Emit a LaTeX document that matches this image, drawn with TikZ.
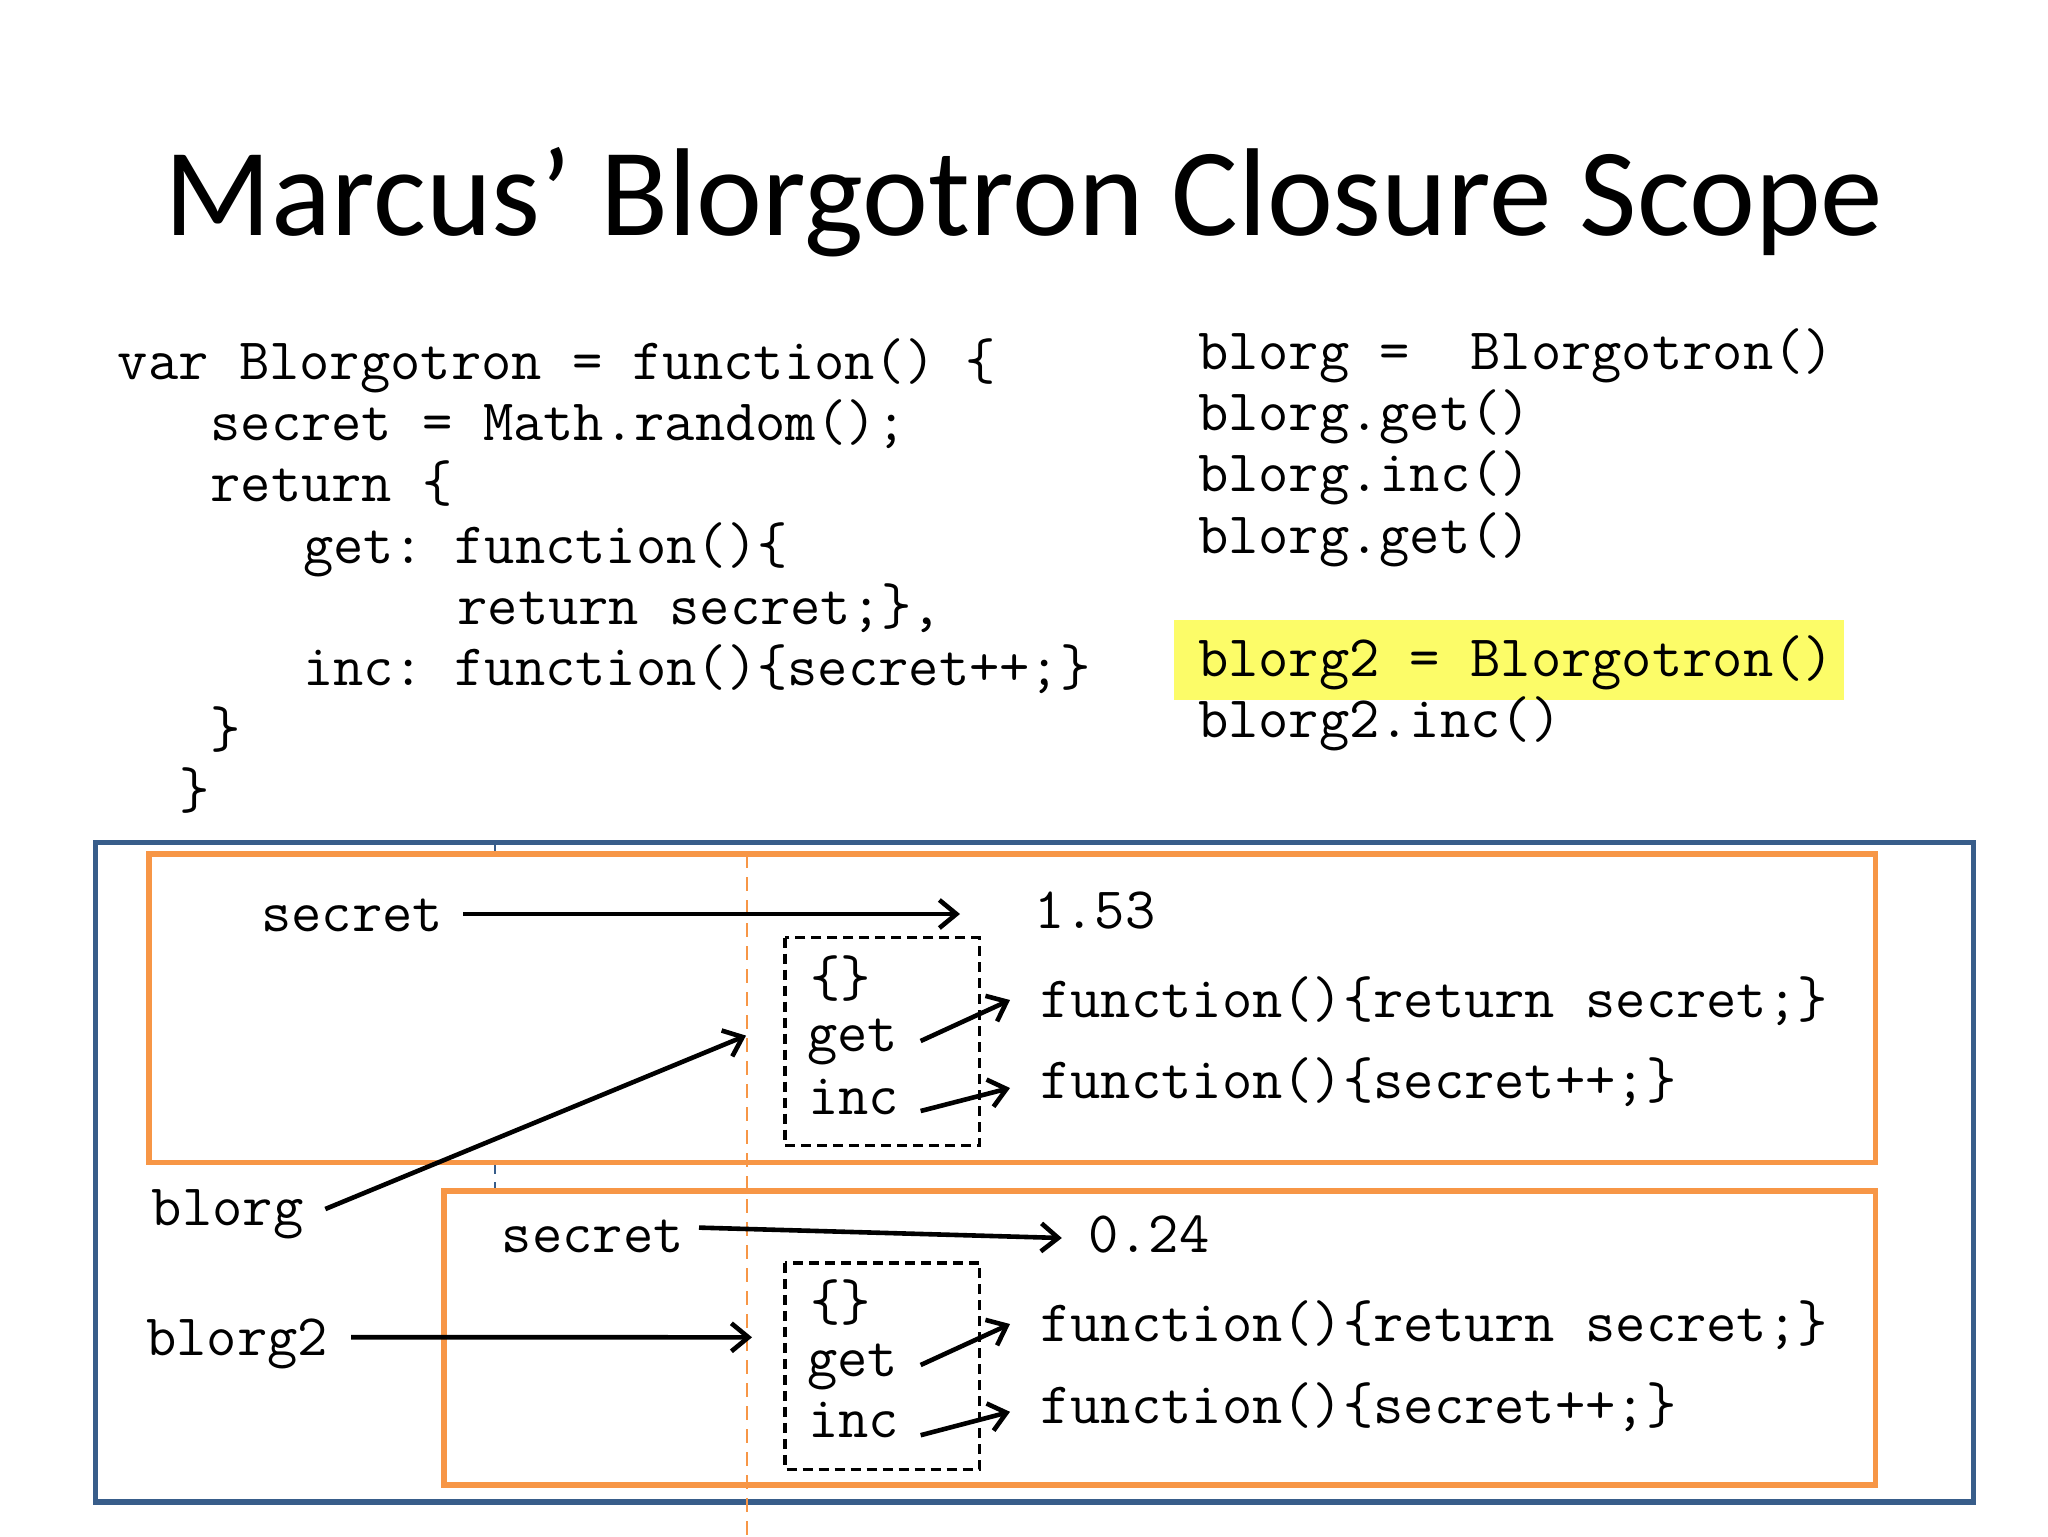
\documentclass[tikz,border=0pt]{standalone}
\usepackage{fontspec}
\newfontfamily\titlefont{Carlito}
\usetikzlibrary{arrows.meta}
\definecolor{hilite}{RGB}{252,252,104}
\definecolor{scopeblue}{RGB}{56,93,138}
\definecolor{scopeorange}{RGB}{247,150,70}
\begin{document}
\begin{tikzpicture}[x=0.5pt,y=-0.5pt,
  code/.style={font=\ttfamily\fontsize{29.4pt}{34pt}\selectfont\frenchspacing, anchor=base west, inner sep=0pt},
  arr/.style={line width=2.3pt, -{Straight Barb[length=8.5pt,width=14pt,line width=2.3pt]}},
  outerbox/.style={draw=scopeblue, line width=2.6pt},
  scopebox/.style={draw=scopeorange, line width=2.8pt, fill=white},
  objbox/.style={draw=black, line width=1.6pt, dash pattern=on 5pt off 3pt},
  orangeline/.style={draw=scopeorange, line width=1.3pt, dash pattern=on 7pt off 4.5pt},
  blueline/.style={draw=scopeblue, line width=1.2pt, dash pattern=on 6pt off 4pt}]
\useasboundingbox[fill=white] (0,0) rectangle (2048,1536);

% title
\node[font=\titlefont\fontsize{62.5pt}{70pt}\selectfont, anchor=base, inner sep=0pt] (title) at (1024,235) {Marcus’ Blorgotron Closure Scope};

% left code
\node[code] (l1) at (117.5,379) {var Blorgotron = function() \{};
\node[code] (l2) at (210.1,440) {secret = Math.random();};
\node[code] (l3) at (210.1,501.5) {return \{};
\node[code] (l4) at (302.7,563) {get: function()\{};
\node[code] (l5) at (457.1,624) {return secret;\},};
\node[code] (l6) at (302.7,685.5) {inc: function()\{secret++;\}};
\node[code] (l7) at (210.1,747) {\}};
\node[code] (l8) at (179.2,808) {\}};

% right code
\fill[hilite] (1174,620) rectangle (1844,700);
\node[code] (r1) at (1197.6,369) {blorg =\ \ Blorgotron()};
\node[code] (r2) at (1197.6,430.4) {blorg.get()};
\node[code] (r3) at (1197.6,491.8) {blorg.inc()};
\node[code] (r4) at (1197.6,553.2) {blorg.get()};
\node[code] (r5) at (1197.6,676) {blorg2 = Blorgotron()};
\node[code] (r6) at (1197.6,737.4) {blorg2.inc()};

% scope boxes
\draw[outerbox] (95.3,842.4) rectangle (1973.4,1502);
\draw[blueline] (495,842.4) -- (495,1191);
\draw[scopebox] (148.9,854.1) rectangle (1875.4,1162.3);
\draw[scopebox] (444,1191) rectangle (1875.4,1485);
\draw[orangeline] (747,854.1) -- (747,1536);
\draw[objbox] (785,937.7) rectangle (979.5,1145.4);
\draw[objbox] (785,1262.9) rectangle (979.5,1469.3);

% scope A
\node[code] (sA) at (261,931) {secret};
\node[code] (vA) at (1034,928) {1.53};
\node[code] (brA) at (810,996) {\{\}};
\node[code] (getA) at (807,1051) {get};
\node[code] (incA) at (808,1114) {inc};
\node[code] (fgA) at (1040,1017) {function()\{return secret;\}};
\node[code] (fiA) at (1040,1098) {function()\{secret++;\}};
\coordinate (sAtip) at (960,914);
\coordinate (getAtip) at (1010,1000);
\coordinate (incAtip) at (1010,1088);
\coordinate (objA) at (746,1035.6);

% scope B
\node[code] (sB) at (501.5,1252) {secret};
\node[code] (vB) at (1088,1252) {0.24};
\node[code] (brB) at (810,1320) {\{\}};
\node[code] (getB) at (807,1376) {get};
\node[code] (incB) at (808,1437.6) {inc};
\node[code] (fgB) at (1040,1341) {function()\{return secret;\}};
\node[code] (fiB) at (1040,1423) {function()\{secret++;\}};
\coordinate (sBtip) at (1061.8,1238);
\coordinate (getBtip) at (1010,1324);
\coordinate (incBtip) at (1010,1411.8);
\coordinate (objB) at (752,1337.3);

% variables
\node[code] (blorg) at (151.5,1225) {blorg};
\node[code] (blorgtwo) at (146,1355) {blorg2};

% arrows
\draw[arr] ([xshift=10pt,yshift=8.5pt]sA.base east) -- (sAtip);
\draw[arr] ([xshift=11pt,yshift=5pt]getA.base east) -- (getAtip);
\draw[arr] ([xshift=10.5pt,yshift=1.5pt]incA.base east) -- (incAtip);
\draw[arr] ([xshift=7.5pt,yshift=12.2pt]sB.base east) -- (sBtip);
\draw[arr] ([xshift=11pt,yshift=5.5pt]getB.base east) -- (getBtip);
\draw[arr] ([xshift=10.5pt,yshift=1.2pt]incB.base east) -- (incBtip);
\draw[arr] ([xshift=10.8pt,yshift=8pt]blorg.base east) -- (objA);
\draw[arr] ([xshift=11.3pt,yshift=8.9pt]blorgtwo.base east) -- (objB);
\end{tikzpicture}
\end{document}
